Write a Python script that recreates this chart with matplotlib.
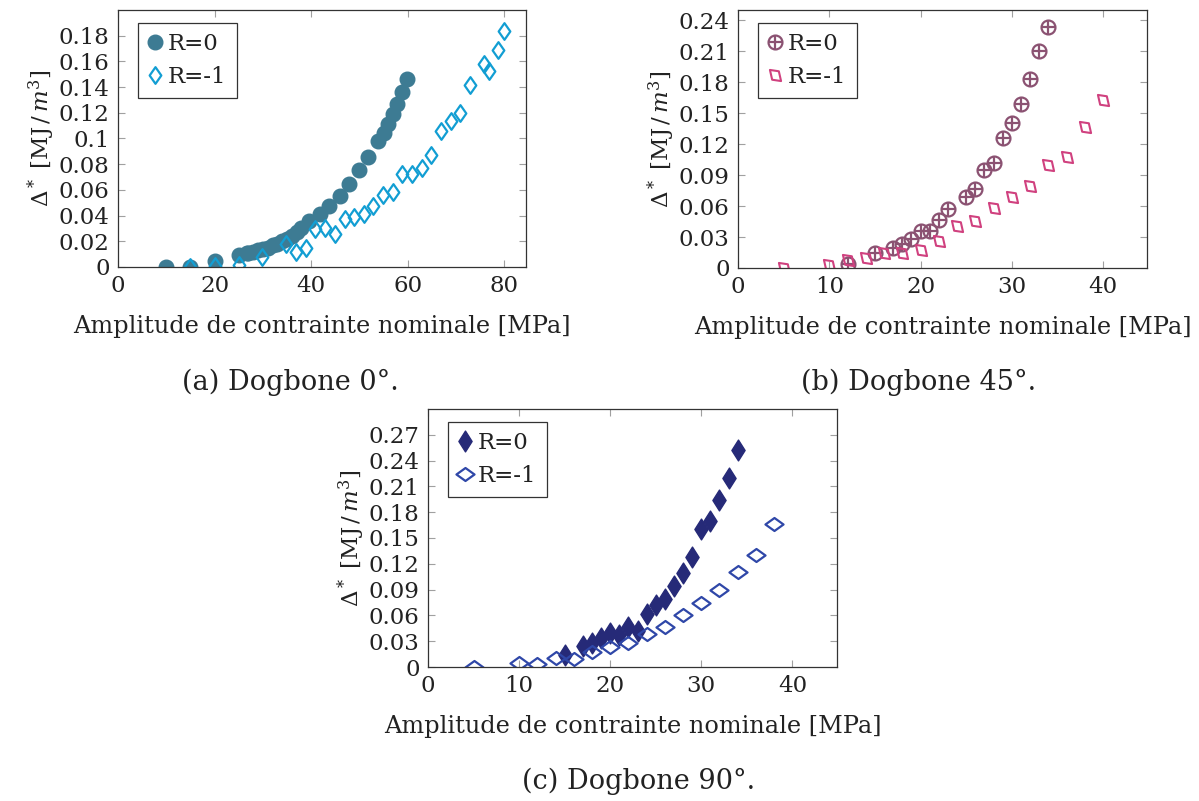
import matplotlib
matplotlib.use("Agg")
import matplotlib.pyplot as plt
from matplotlib.path import Path

plt.rcParams['font.family'] = ['DejaVu Serif']
plt.rcParams['mathtext.fontset'] = 'dejavuserif'

# (a) Dogbone 0 deg
a_x_r0 = [10, 15, 20, 25, 26.7, 27, 28, 29, 30, 31, 32, 33, 34, 35, 36, 37,
          38, 39.6, 41.9, 43.8, 45.9, 47.9, 49.9, 51.8, 53.9, 55, 55.9, 56.9, 57.8, 58.9, 59.9]
a_y_r0 = [0, 0, 0.005, 0.009, 0.0106, 0.011, 0.012, 0.013, 0.014, 0.015, 0.017, 0.018, 0.020, 0.022, 0.024, 0.027,
          0.0306, 0.0358, 0.0415, 0.0475, 0.0553, 0.0649, 0.0752, 0.0856, 0.098, 0.104, 0.111, 0.119, 0.127, 0.136, 0.146]
a_x_rm1 = [15, 20, 25, 29.8, 34.8, 36.9, 38.9, 40.9, 42.8, 44.9, 47, 48.8, 50.9, 52.8, 54.8, 56.9,
           58.9, 60.8, 62.9, 64.9, 66.8, 68.9, 70.8, 72.8, 75.8, 76.8, 78.8, 79.9]
a_y_rm1 = [0, 0.0008, 0.0013, 0.0078, 0.018, 0.0119, 0.015, 0.0293, 0.0306, 0.0259, 0.0371, 0.0392, 0.041, 0.0475, 0.056, 0.058,
           0.0721, 0.0726, 0.0773, 0.0872, 0.106, 0.114, 0.120, 0.142, 0.158, 0.1525, 0.169, 0.184]

# (b) Dogbone 45 deg
b_x_r0 = [12, 15, 17, 18, 19, 20, 21, 22, 23, 25, 26, 27, 28, 29, 30, 31, 32, 33, 34]
b_y_r0 = [0.0042, 0.0145, 0.0197, 0.0236, 0.0284, 0.0355, 0.036, 0.0468, 0.0568, 0.0688, 0.0762,
          0.0953, 0.102, 0.126, 0.1405, 0.1586, 0.1828, 0.2103, 0.2335]
b_x_rm1 = [5, 10, 12, 14, 16, 18, 20, 22, 24, 26, 28, 30, 32, 34, 36, 38, 40]
b_y_rm1 = [0, 0.0026, 0.0074, 0.010, 0.0145, 0.0145, 0.0171, 0.026, 0.0404, 0.0455, 0.0585,
           0.0688, 0.0795, 0.0995, 0.1076, 0.137, 0.163]

# (c) Dogbone 90 deg
c_x_r0 = [15, 17, 18, 19, 20, 21, 22, 23, 24, 25, 26, 27, 28, 29, 30, 31, 32, 33, 34]
c_y_r0 = [0.0143, 0.024, 0.0279, 0.034, 0.0395, 0.0376, 0.0465, 0.0418, 0.062, 0.0716, 0.0786,
          0.094, 0.109, 0.128, 0.161, 0.170, 0.194, 0.220, 0.2525]
c_x_rm1 = [5, 10, 12, 14, 16, 18, 20, 22, 24, 26, 28, 30, 32, 34, 36, 38]
c_y_rm1 = [0, 0.005, 0.0031, 0.0105, 0.0089, 0.0174, 0.0232, 0.0279, 0.0387, 0.0465, 0.0608,
           0.0744, 0.0891, 0.111, 0.13, 0.1665]

x_label = 'Amplitude de contrainte nominale [MPa]'
y_label = r'$\Delta^*$ [MJ$\,/\,m^3$]'

codes = [Path.MOVETO, Path.LINETO, Path.LINETO, Path.LINETO, Path.CLOSEPOLY]
tall_diamond = Path([(0, 0.6), (0.38, 0), (0, -0.6), (-0.38, 0), (0, 0.6)], codes)
open_diamond = Path([(0, 0.6), (0.42, 0), (0, -0.6), (-0.42, 0), (0, 0.6)], codes)
wide_diamond = Path([(0, 0.36), (0.5, 0), (0, -0.36), (-0.5, 0), (0, 0.36)], codes)
slant_square = Path([(-0.5, 0.5), (0.3, 0.38), (0.5, -0.5), (-0.3, -0.38), (-0.5, 0.5)], codes)

fig = plt.figure(figsize=(11.99, 8.01), dpi=100)
W, H = 1199, 801


def add_ax(left, top, right, bottom):
    return fig.add_axes([left / W, 1 - bottom / H, (right - left) / W, (bottom - top) / H])


def style(ax, xlim, xticks, ylim, yticks, ylabels):
    ax.set_xlim(*xlim)
    ax.set_ylim(*ylim)
    ax.set_xticks(xticks)
    ax.set_yticks(yticks)
    ax.set_yticklabels(ylabels)
    ax.tick_params(direction='in', top=True, right=True, length=5, width=0.8,
                   color='#a0a0a0', labelsize=16.5, labelcolor='#222222', pad=6)
    for s in ax.spines.values():
        s.set_linewidth(0.9)
        s.set_color('#333333')
    ax.set_xlabel(x_label, fontsize=17.3, color='#222222', labelpad=13)
    ax.set_ylabel(y_label, fontsize=16.5, color='#222222', labelpad=1)


def legend(ax, handles, w, h):
    leg = ax.legend(handles, ['R=0', 'R=-1'], loc='upper left', fontsize=16.5,
                    bbox_to_anchor=(20 / w, 1 - 13 / h), borderaxespad=0,
                    fancybox=False, framealpha=1, edgecolor='#333333',
                    handlelength=0.55, handletextpad=0.3,
                    borderpad=0.45, labelspacing=0.45)
    leg.get_frame().set_linewidth(0.9)
    for t in leg.get_texts():
        t.set_color('#222222')


# panel a
ax = add_ax(118, 10, 526, 267)
h1, = ax.plot(a_x_r0, a_y_r0, ls='none', marker='o', ms=10.5, color='#3d7b93', mec='#3d7b93')
h2, = ax.plot(a_x_rm1, a_y_rm1, ls='none', marker=open_diamond, ms=12, mfc='none',
              mec='#129ed3', mew=1.6)
style(ax, (0, 84.5), [0, 20, 40, 60, 80], (0, 0.2),
      [0, 0.02, 0.04, 0.06, 0.08, 0.1, 0.12, 0.14, 0.16, 0.18],
      ['0', '0.02', '0.04', '0.06', '0.08', '0.1', '0.12', '0.14', '0.16', '0.18'])
legend(ax, [h1, h2], 408, 257)

# panel b
ax = add_ax(738, 10, 1147, 268)
h1a, = ax.plot(b_x_r0, b_y_r0, ls='none', marker='o', ms=10, mfc='none', mec='#8b5272', mew=1.6)
h1b, = ax.plot(b_x_r0, b_y_r0, ls='none', marker='+', ms=10, mec='#8b5272', mew=1.6)
h2, = ax.plot(b_x_rm1, b_y_rm1, ls='none', marker=slant_square, ms=8, mfc='none',
              mec='#d0417f', mew=1.5)
style(ax, (0, 44.8), [0, 10, 20, 30, 40], (0, 0.25),
      [0, 0.03, 0.06, 0.09, 0.12, 0.15, 0.18, 0.21, 0.24],
      ['0', '0.03', '0.06', '0.09', '0.12', '0.15', '0.18', '0.21', '0.24'])
legend(ax, [(h1a, h1b), h2], 409, 258)

# panel c
ax = add_ax(428, 409, 837, 667)
h1, = ax.plot(c_x_r0, c_y_r0, ls='none', marker=tall_diamond, ms=15, color='#262a78', mec='#262a78')
h2, = ax.plot(c_x_rm1, c_y_rm1, ls='none', marker=wide_diamond, ms=13, mfc='none',
              mec='#2f47a8', mew=1.6)
style(ax, (0, 44.9), [0, 10, 20, 30, 40], (0, 0.3),
      [0, 0.03, 0.06, 0.09, 0.12, 0.15, 0.18, 0.21, 0.24, 0.27],
      ['0', '0.03', '0.06', '0.09', '0.12', '0.15', '0.18', '0.21', '0.24', '0.27'])
legend(ax, [h1, h2], 409, 258)

fig.text(290 / W, 1 - 382 / H, '(a) Dogbone 0°.', ha='center', va='center', fontsize=19.5, color='#222222')
fig.text(919 / W, 1 - 382 / H, '(b) Dogbone 45°.', ha='center', va='center', fontsize=19.5, color='#222222')
fig.text(639 / W, 1 - 781 / H, '(c) Dogbone 90°.', ha='center', va='center', fontsize=19.5, color='#222222')

fig.savefig('out.png', dpi=100)
